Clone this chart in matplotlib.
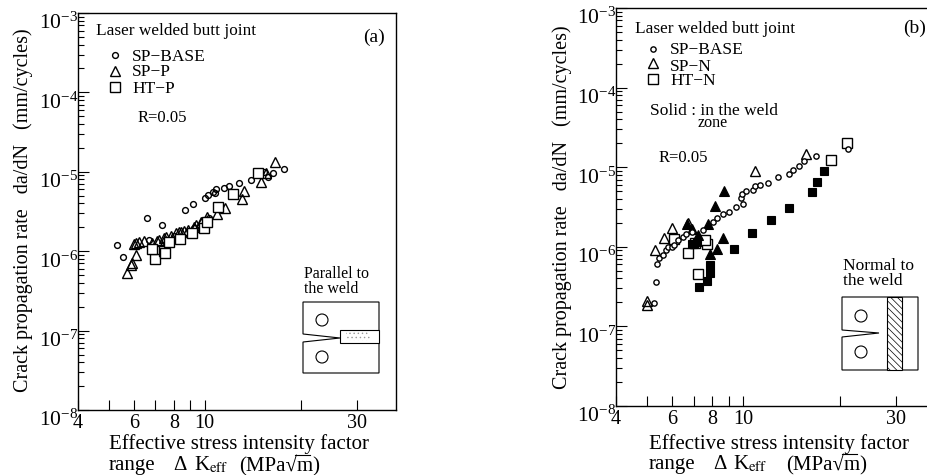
import matplotlib
matplotlib.use("Agg")
import matplotlib.pyplot as plt
from matplotlib.patches import Rectangle, Circle, Polygon

plt.rcParams['font.family'] = ['Liberation Serif', 'DejaVu Serif']
plt.rcParams['mathtext.fontset'] = 'stix'
plt.rcParams['hatch.linewidth'] = 0.5

# panel (a), parallel to the weld
a_base_x = [5.30, 5.53, 6.61, 7.35, 8.68, 9.2, 10.0, 10.25, 10.58, 10.76, 10.84, 11.5, 11.88, 12.77, 13.93, 15.75, 16.33, 15.38, 17.78, 6.69, 8.02, 9.27, 10.33]
a_base_y = [1.2e-6, 8.45e-7, 2.62e-6, 2.14e-6, 3.3e-6, 3.9e-6, 4.63e-6, 5.15e-6, 5.61e-6, 5.46e-6, 6.07e-6, 6.31e-6, 6.62e-6, 7.16e-6, 7.96e-6, 8.67e-6, 9.75e-6, 1.0e-5, 1.08e-5, 1.38e-6, 1.55e-6, 1.96e-6, 2.62e-6]
a_sp_x = [5.69, 5.88, 5.90, 6.10, 6.00, 6.08, 6.22, 6.45, 6.85, 7.10, 7.19, 7.45, 7.55, 7.83, 8.15, 8.31, 8.41, 8.62, 8.83, 9.27, 9.38, 9.72, 9.72, 10.13, 10.89, 11.6, 13.05, 13.3, 15.05, 15.57, 16.66]
a_sp_y = [5.36e-7, 6.70e-7, 7.05e-7, 8.95e-7, 1.23e-6, 1.28e-6, 1.32e-6, 1.36e-6, 1.28e-6, 1.36e-6, 1.38e-6, 1.46e-6, 1.52e-6, 1.55e-6, 1.68e-6, 1.76e-6, 1.76e-6, 1.81e-6, 1.85e-6, 2.04e-6, 2.14e-6, 2.26e-6, 2.35e-6, 2.72e-6, 2.92e-6, 3.53e-6, 4.54e-6, 5.78e-6, 7.5e-6, 9.66e-6, 1.34e-5]
a_ht_x = [6.97, 6.85, 7.45, 7.51, 7.73, 8.35, 9.11, 9.96, 10.13, 10.97, 12.23, 14.65]
a_ht_y = [7.98e-7, 1.06e-6, 1.01e-6, 9.4e-7, 1.29e-6, 1.42e-6, 1.71e-6, 1.94e-6, 2.31e-6, 3.57e-6, 5.21e-6, 9.57e-6]

# panel (b), normal to the weld
b_base_x = [5.27, 5.32, 5.38, 5.46, 5.60, 5.72, 5.83, 5.97, 6.07, 6.26, 6.46, 6.62, 6.90, 7.46, 8.02, 8.27, 8.62, 9.02, 9.47, 9.97, 9.83, 9.92, 10.19, 10.74, 10.9, 11.27, 11.92, 12.8, 13.84, 14.33, 14.96, 15.5, 16.87, 21.28]
b_base_y = [1.95e-7, 3.65e-7, 6.08e-7, 7.17e-7, 7.89e-7, 9.04e-7, 9.86e-7, 9.86e-7, 1.05e-6, 1.22e-6, 1.34e-6, 1.45e-6, 1.55e-6, 1.63e-6, 2.07e-6, 2.28e-6, 2.61e-6, 2.74e-6, 3.13e-6, 3.45e-6, 4.07e-6, 4.6e-6, 5.02e-6, 5.18e-6, 5.8e-6, 5.97e-6, 6.38e-6, 7.6e-6, 8.22e-6, 9.23e-6, 1.04e-5, 1.2e-5, 1.4e-5, 1.69e-5]
b_sp_x = [4.99, 5.01, 5.28, 5.65, 5.97, 6.73, 10.88, 15.66]
b_sp_y = [2.10e-7, 1.86e-7, 9.12e-7, 1.28e-6, 1.71e-6, 1.97e-6, 9.04e-6, 1.45e-5]
b_sp_weld_x = [8.68, 8.14, 6.65, 6.90, 7.74, 7.23, 8.62, 8.26, 7.87]
b_sp_weld_y = [5.07e-6, 3.26e-6, 1.92e-6, 1.66e-6, 1.92e-6, 1.41e-6, 1.28e-6, 9.3e-7, 8.13e-7]
b_ht_x = [6.08, 6.70, 7.2, 7.71, 7.59, 7.06, 18.79, 21.04]
b_ht_y = [1.24e-6, 8.43e-7, 4.55e-7, 1.08e-6, 1.22e-6, 1.11e-6, 1.23e-5, 2.0e-5]
b_ht_weld_x = [7.28, 7.71, 7.87, 7.87, 6.90, 7.0, 7.15, 9.37, 10.66, 12.2, 13.92, 16.38, 17.02, 17.93]
b_ht_weld_y = [3.16e-7, 3.75e-7, 4.65e-7, 5.9e-7, 1.08e-6, 1.1e-6, 1.15e-6, 9.38e-7, 1.5e-6, 2.17e-6, 3.1e-6, 4.92e-6, 6.58e-6, 8.96e-6]

x_major = [4, 5, 6, 7, 8, 9, 10, 20, 30]
x_labels = ['4', '', '6', '', '8', '', '10', '', '30']
y_major = [1e-8, 1e-7, 1e-6, 1e-5, 1e-4, 1e-3]
y_labels = [r'$\mathregular{10^{-%d}}$' % n for n in [8, 7, 6, 5, 4, 3]]

W, H = 928, 475
fig = plt.figure(figsize=(W / 100, H / 100), dpi=100)


def make_axes(left, right, top, bottom):
    ax = fig.add_axes([left / W, 1 - bottom / H, (right - left) / W, (bottom - top) / H])
    ax.set_xscale('log')
    ax.set_yscale('log')
    ax.set_xlim(4, 40)
    ax.set_ylim(1e-8, 1e-3)
    ax.set_xticks(x_major)
    ax.set_xticklabels(x_labels, fontsize=14.5)
    ax.xaxis.set_minor_locator(matplotlib.ticker.NullLocator())
    ax.set_yticks(y_major)
    ax.set_yticklabels(y_labels, fontsize=15.5)
    ax.yaxis.set_minor_locator(matplotlib.ticker.LogLocator(base=10, subs=range(2, 10), numticks=12))
    ax.yaxis.set_minor_formatter(matplotlib.ticker.NullFormatter())
    ax.tick_params(axis='x', which='major', direction='in', length=7, width=0.8, pad=3)
    ax.tick_params(axis='y', which='major', direction='in', length=8, width=0.8, pad=0)
    ax.tick_params(axis='y', which='minor', direction='in', length=4, width=0.8)
    for lab in ax.get_yticklabels():
        lab.set_va('top')
    for s in ax.spines.values():
        s.set_linewidth(1.0)
    return ax


def scatter_open(ax, x, y, marker, size, fill='none', z=3):
    ax.plot(x, y, ls='none', marker=marker, ms=size, mfc=fill, mec='k', mew=1.0, zorder=z)


def scatter_solid(ax, x, y, marker, size):
    ax.plot(x, y, ls='none', marker=marker, ms=size, mfc='k', mec='k', mew=0.8, zorder=5)


ax1 = make_axes(78, 396.5, 13, 410)
scatter_open(ax1, a_sp_x, a_sp_y, '^', 7)
scatter_open(ax1, a_base_x, a_base_y, 'o', 4.2, z=4)
scatter_open(ax1, a_ht_x, a_ht_y, 's', 6.6, fill='white', z=5)

ax2 = make_axes(616, 936, 8, 406)
scatter_open(ax2, b_sp_x, b_sp_y, '^', 7)
scatter_open(ax2, b_ht_x, b_ht_y, 's', 6.6, fill='white', z=4)
scatter_solid(ax2, b_sp_weld_x, b_sp_weld_y, '^', 7)
scatter_solid(ax2, b_ht_weld_x, b_ht_weld_y, 's', 6.4)
scatter_open(ax2, b_base_x, b_base_y, 'o', 3.8, fill='white', z=6)

# overlay in pixel coordinates for the text and the specimen sketches
ov = fig.add_axes([0, 0, 1, 1], zorder=10)
ov.set_xlim(0, W)
ov.set_ylim(H, 0)
ov.axis('off')


def label(x, y, s, size=11):
    ov.text(x, y, s, fontsize=size, ha='left', va='baseline')


ylab = 'Crack propagation rate   da/dN   (mm/cycles)'
ov.text(23, 210, ylab, fontsize=14.5, rotation=90, ha='center', va='center')
ov.text(562, 207, ylab, fontsize=14.5, rotation=90, ha='center', va='center')

xlab_size = 15
label(109, 449, 'Effective stress intensity factor', xlab_size)
label(109, 470, 'range', xlab_size)
label(173, 470, '\u0394', xlab_size)
label(194, 470, r'K$_{\mathrm{eff}}$', xlab_size)
label(239, 470, '(MPa\u221am)', xlab_size)
label(649, 449, 'Effective stress intensity factor', xlab_size)
label(649, 469, 'range', xlab_size)
label(713, 469, '\u0394', xlab_size)
label(733, 469, r'K$_{\mathrm{eff}}$', xlab_size)
label(786, 469, '(MPa\u221am)', xlab_size)
ov.plot([295, 310], [455, 455], color='k', lw=0.8)
ov.plot([842, 857], [454, 454], color='k', lw=0.8)

label(96, 35, 'Laser welded butt joint', 12.4)
label(132, 61, 'SP\u2212BASE', 12.5)
label(132, 76, 'SP\u2212P', 12.5)
label(132, 93, 'HT\u2212P', 12.5)
label(138, 122, 'R=0.05', 12)
label(363, 42, '(a)', 14)
ov.plot([115], [55], 'o', ms=4.2, mfc='none', mec='k', mew=1.0)
ov.plot([115], [71], '^', ms=7, mfc='none', mec='k', mew=1.0)
ov.plot([115], [87], 's', ms=6.6, mfc='none', mec='k', mew=1.0)

label(635, 33, 'Laser welded butt joint', 12.4)
label(670, 54, 'SP\u2212BASE', 12.5)
label(670, 71, 'SP\u2212N', 12.5)
label(670, 85, 'HT\u2212N', 12.5)
label(650, 115, 'Solid : in the weld', 12.5)
label(698, 127, 'zone', 11.5)
label(659, 162, 'R=0.05', 12)
label(903, 33, '(b)', 14)
ov.plot([653], [49], 'o', ms=3.8, mfc='none', mec='k', mew=1.0)
ov.plot([653], [63], '^', ms=7, mfc='none', mec='k', mew=1.0)
ov.plot([653], [79], 's', ms=6.6, mfc='none', mec='k', mew=1.0)

label(304, 278, 'Parallel to', 11.5)
label(304, 293, 'the weld', 11.5)
label(843, 270, 'Normal to', 12.5)
label(843, 285, 'the weld', 12.5)

# specimen (a)
ov.add_patch(Polygon([(303, 302), (379, 302), (379, 373), (303, 373), (303, 342), (340, 338), (303, 334)],
                     closed=True, fc='none', ec='k', lw=0.8))
ov.add_patch(Rectangle((340, 330), 39, 13, fc='white', ec='k', lw=0.8))
ov.add_patch(Rectangle((346, 332), 24, 9, fc='white', ec='#999999', lw=0, hatch='....'))
ov.add_patch(Circle((322, 320), 6, fc='none', ec='k', lw=0.8))
ov.add_patch(Circle((322, 357), 6, fc='none', ec='k', lw=0.8))

# specimen (b)
ov.add_patch(Polygon([(842, 297), (918, 297), (918, 370), (842, 370), (842, 337), (879, 333), (842, 330)],
                     closed=True, fc='none', ec='k', lw=0.8))
ov.add_patch(Rectangle((887, 297), 15, 73, fc='white', ec='k', lw=0.8, hatch='\\\\\\\\\\'))
ov.add_patch(Circle((861, 316), 6, fc='none', ec='k', lw=0.8))
ov.add_patch(Circle((861, 352), 6, fc='none', ec='k', lw=0.8))

fig.savefig('out.png', dpi=100)
